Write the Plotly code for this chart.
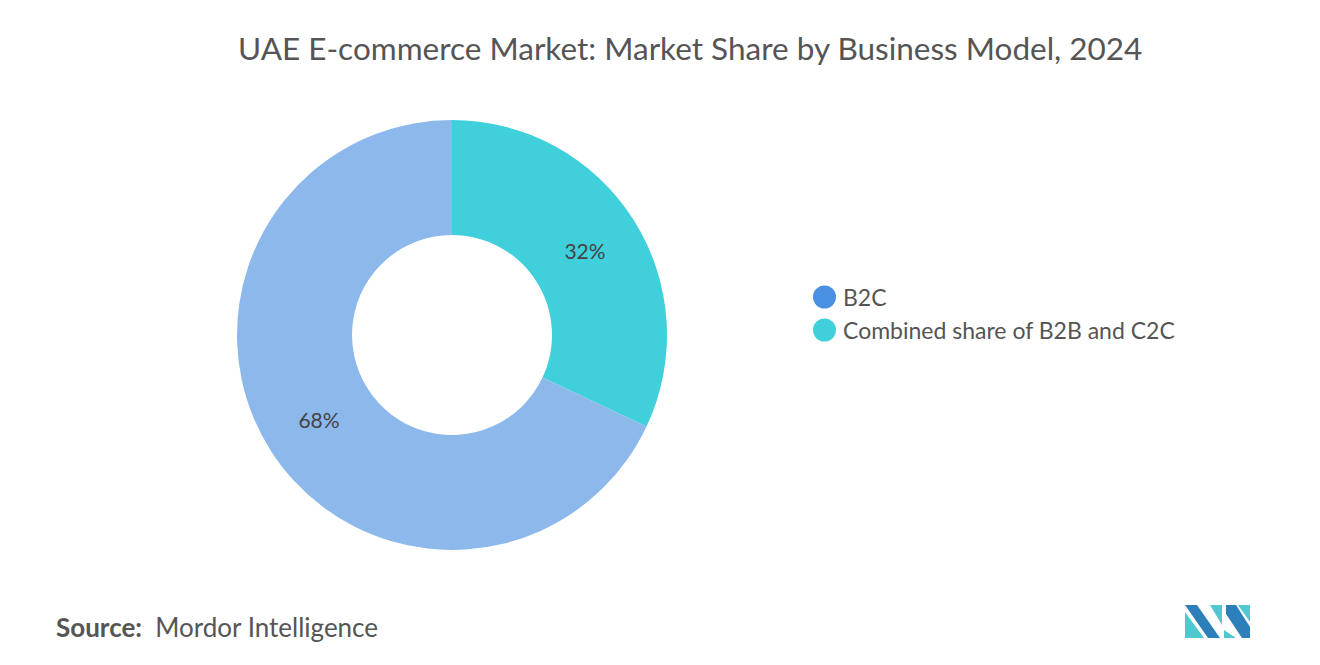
import plotly.graph_objects as go

W, H = 1320, 665

labels = ["B2C", "Combined share of B2B and C2C"]
values = [68, 32]
slice_colors = ["#8DB8EC", "#40D0DC"]
legend_colors = ["#4A90E2", "#40D0DC"]


# page has an 8px body margin, so shift target pixel positions
def px(x):
    return (x - 8) / W


def py(y):
    return 1 - (y - 8) / H


# teal slice drawn first so it sits clockwise from 12 o'clock
fig = go.Figure(go.Pie(
    labels=labels[::-1], values=values[::-1], sort=False, direction="clockwise",
    rotation=0,
    hole=0.465, marker=dict(colors=slice_colors[::-1], line=dict(width=0)),
    texttemplate="%{value}%", textposition="inside",
    textfont=dict(size=21, color="#444"), insidetextorientation="horizontal",
    domain=dict(x=[px(237), px(667)], y=[py(550), py(120)]),
    showlegend=False, hoverinfo="label+percent",
))

shapes = []
annotations = []
# legend
for i, (lab, col) in enumerate(zip(labels, legend_colors)):
    yc = 297 + i * 33
    shapes.append(dict(type="circle", xref="paper", yref="paper",
                       x0=px(813), x1=px(836), y0=py(yc - 11.5), y1=py(yc + 11.5),
                       fillcolor=col, line=dict(width=0)))
    annotations.append(dict(x=px(841), y=py(yc), xref="paper", yref="paper",
                            text=lab, showarrow=False, xanchor="left", yanchor="middle",
                            font=dict(size=23, color="#555")))

# logo
dark, light = "#2C7FB8", "#4FC8D0"
logo = [
    ([(1185, 605), (1197, 605), (1220, 638), (1208, 638)], dark),
    ([(1185, 612), (1204, 638), (1185, 638)], light),
    ([(1210, 605), (1222, 605), (1222, 625)], light),
    ([(1226, 605), (1236, 605), (1250, 627), (1250, 638), (1242, 638), (1226, 614)], dark),
    ([(1238, 605), (1250, 605), (1250, 622)], light),
    ([(1224, 630), (1236, 638), (1224, 638)], light),
]
for pts, col in logo:
    path = "M " + " L ".join(f"{px(x)},{py(y)}" for x, y in pts) + " Z"
    shapes.append(dict(type="path", xref="paper", yref="paper", path=path,
                       fillcolor=col, line=dict(width=0)))

annotations.append(dict(x=px(690), y=py(48), xref="paper", yref="paper",
                        text="UAE E-commerce Market: Market Share by Business Model, 2024",
                        showarrow=False, yanchor="middle",
                        font=dict(size=31.5, color="#555")))
annotations.append(dict(x=px(54), y=py(627), xref="paper", yref="paper",
                        text="<b>Source:</b>  Mordor Intelligence", showarrow=False,
                        xanchor="left", yanchor="middle", font=dict(size=26, color="#555")))

fig.update_layout(
    width=W, height=H, margin=dict(l=0, r=0, t=0, b=0),
    paper_bgcolor="white", plot_bgcolor="white",
    font=dict(family="Lato, sans-serif"),
    shapes=shapes, annotations=annotations,
)
fig.write_html("out.html")
